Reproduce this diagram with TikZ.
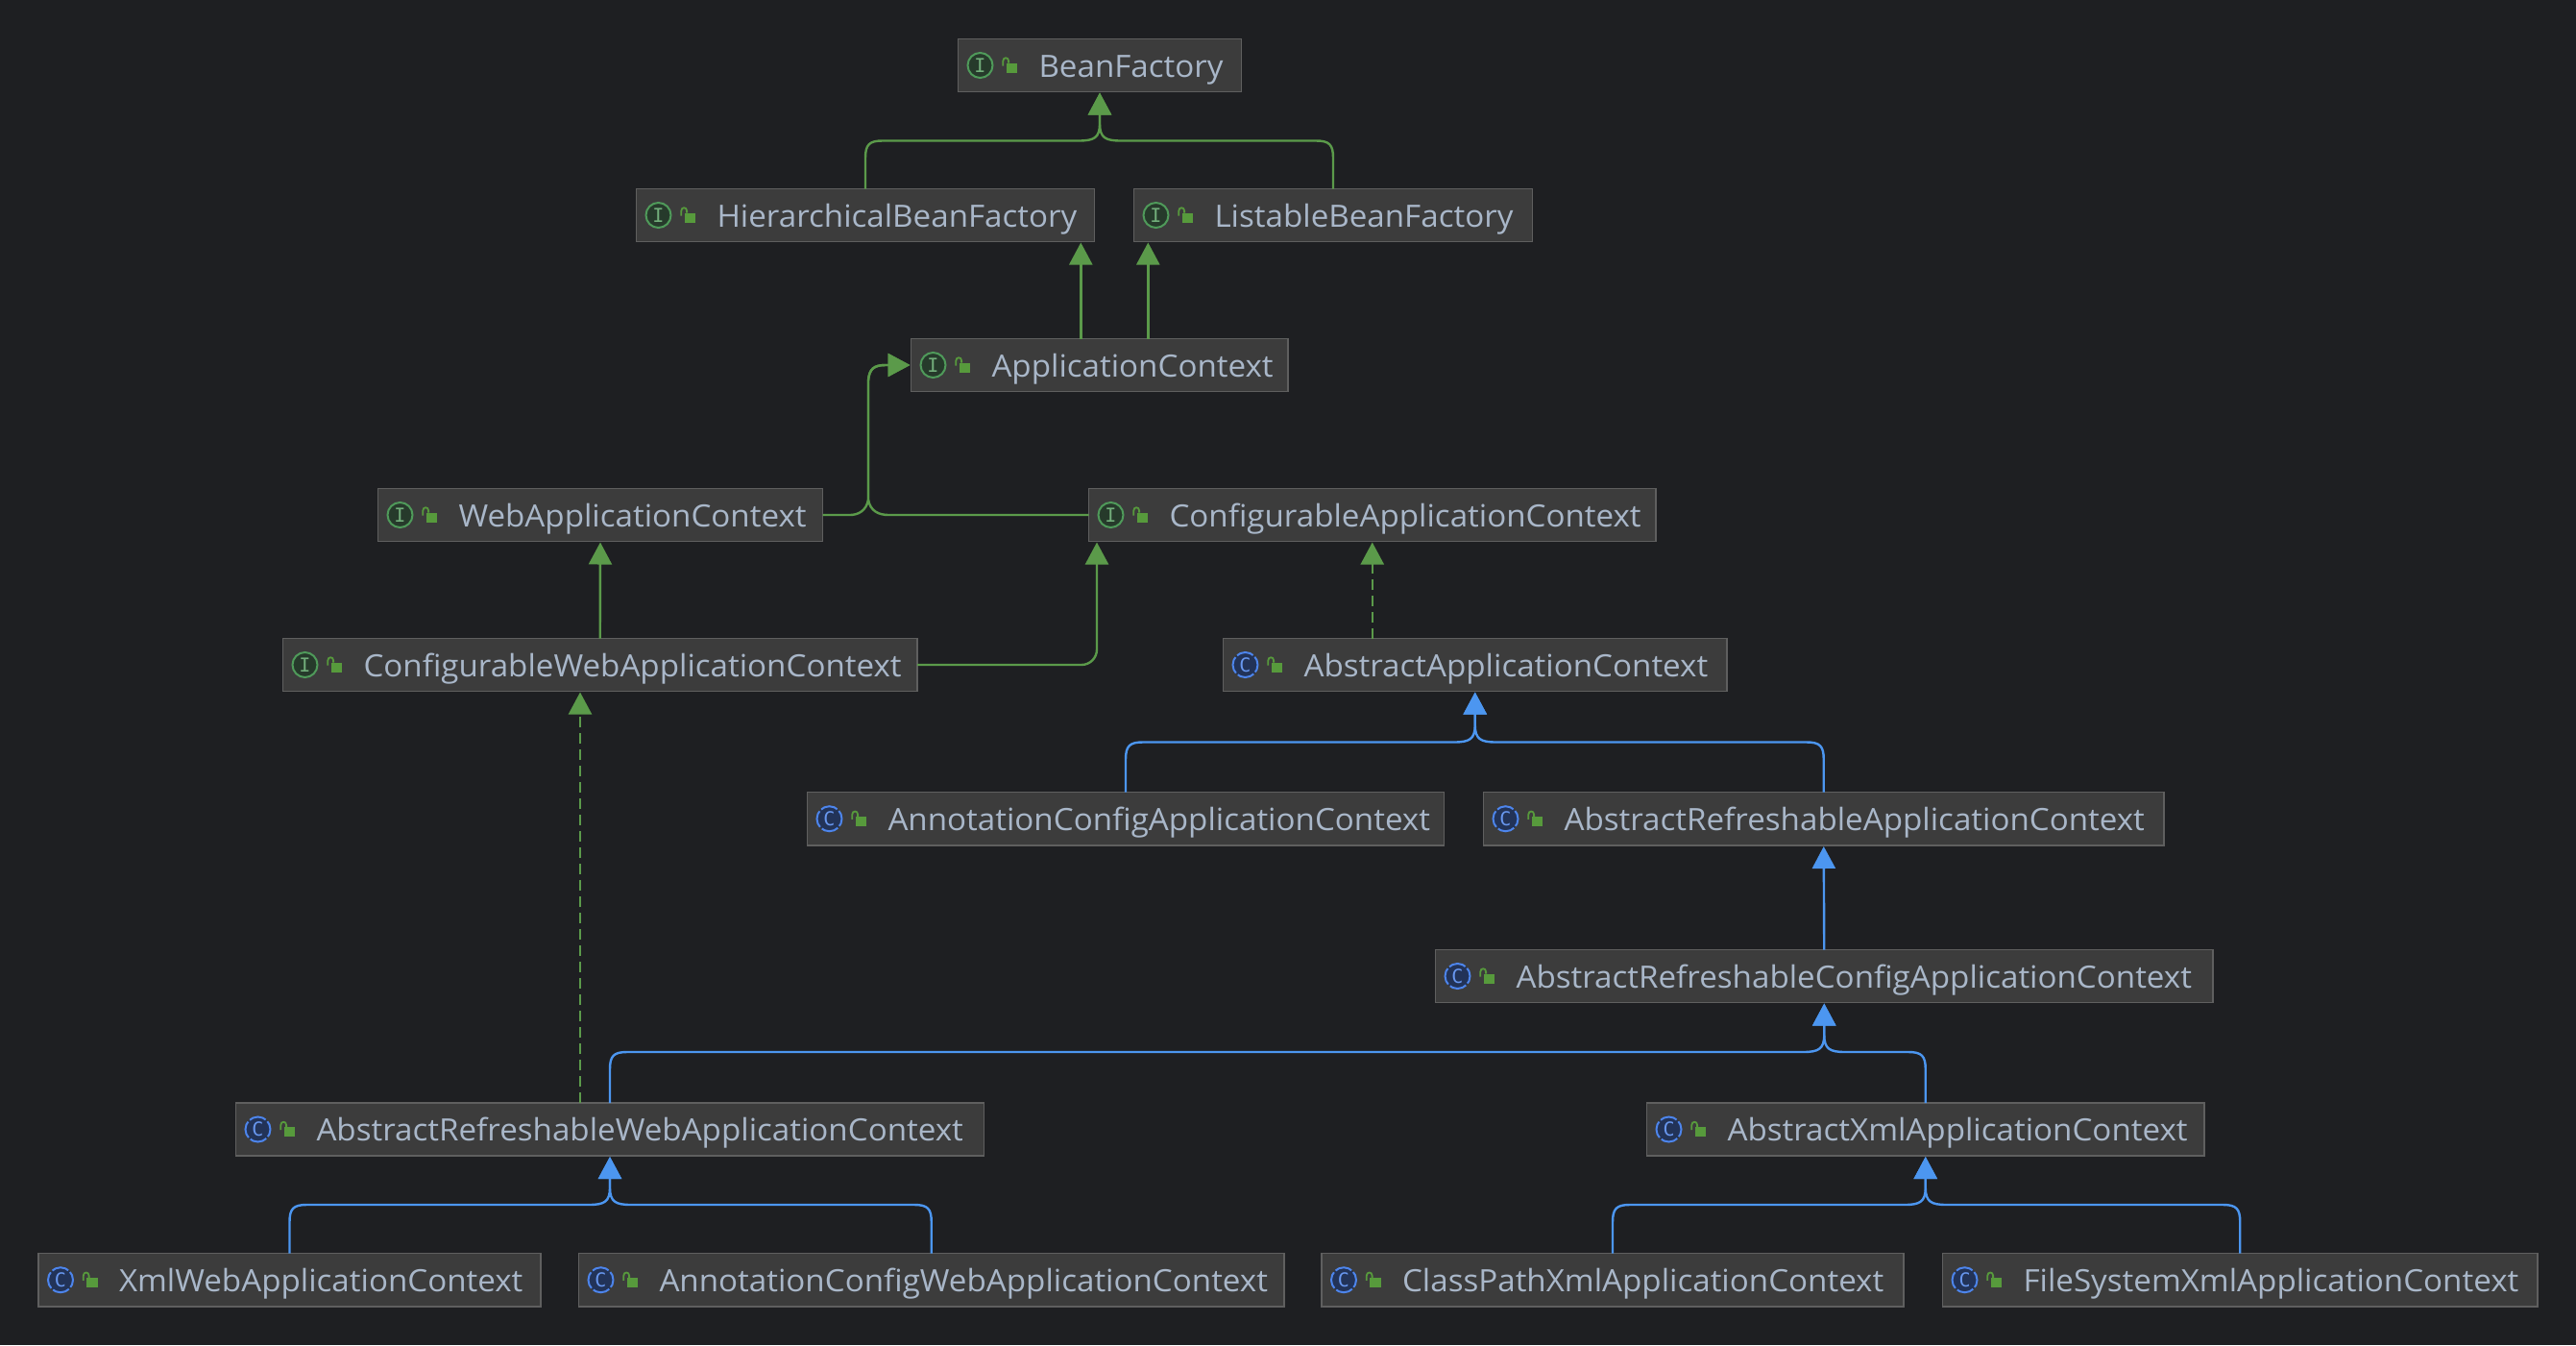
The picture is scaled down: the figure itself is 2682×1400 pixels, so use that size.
\documentclass[tikz,border=0pt]{standalone}
\usepackage{fontspec}
\setmainfont[FakeStretch=1.036]{Open Sans}
\newfontfamily\iconfont{DejaVu Sans Mono}
\usetikzlibrary{arrows.meta,calc}
\definecolor{bgc}{HTML}{1E1F22}
\definecolor{boxc}{HTML}{3C3C3C}
\definecolor{edgec}{HTML}{5F5F5F}
\definecolor{txtc}{HTML}{A9B7C9}
\definecolor{gln}{HTML}{5B9A4A}
\definecolor{bln}{HTML}{4C96F0}
\definecolor{ifill}{HTML}{263A2B}
\definecolor{istroke}{HTML}{4F9A5A}
\definecolor{cfill}{HTML}{223358}
\definecolor{cstroke}{HTML}{4D85EC}
\definecolor{lockc}{HTML}{579A3C}
\tikzset{
  x=1pt,y=-1pt,
  clsbox/.style={draw=edgec,fill=boxc,line width=1.6pt,inner sep=0pt,outer sep=0pt,rectangle},
  gl/.style={draw=gln,line width=2.4pt,-{Triangle[length=23pt,width=24pt,fill=gln]},shorten >=1pt},
  bl/.style={draw=bln,line width=2.4pt,-{Triangle[length=23pt,width=24pt,fill=bln]},shorten >=1pt},
  dsh/.style={dash pattern=on 11pt off 6pt},
  lbl/.style={text=txtc,font=\fontsize{32}{36}\selectfont,anchor=base west,inner sep=0pt,outer sep=0pt},
  glyphI/.style={text=istroke!80!white,font=\iconfont\fontsize{20}{20}\selectfont,inner sep=0pt},
  glyphC/.style={text=cstroke!85!white,font=\iconfont\fontsize{20}{20}\selectfont,inner sep=0pt},
}
% \cls{name}{x1}{y1}{x2}{y2}{label}{I or C}
\newcommand{\cls}[7]{%
  \node[clsbox,minimum width=#4-#2,minimum height=#5-#3] (#1) at ({(#2+#4)/2},{(#3+#5)/2}) {};
  \ifx I#7
    \node[circle,draw=istroke,fill=ifill,line width=2pt,minimum size=26pt,inner sep=0pt] (#1-ic) at ({#2+23},{(#3+#5)/2}) {};
    \node[glyphI] (#1-g) at (#1-ic.center) {I};
  \else
    \node[circle,draw=cstroke,fill=cfill,line width=2pt,minimum size=26pt,inner sep=0pt,dash pattern=on 18pt off 2.5pt,dash phase=9pt] (#1-ic) at ({#2+23},{(#3+#5)/2}) {};
    \node[glyphC] (#1-g) at (#1-ic.center) {C};
  \fi
  \fill[lockc] ({#2+50},{(#3+#5)/2-2.3}) rectangle ({#2+61.7},{(#3+#5)/2+7.7});
  \draw[lockc,line width=1.8pt] ({#2+46.8},{(#3+#5)/2+0.5}) -- ({#2+46.8},{(#3+#5)/2-4.5}) .. controls ({#2+46.8},{(#3+#5)/2-8.8}) and ({#2+52.6},{(#3+#5)/2-8.8}) .. ({#2+52.6},{(#3+#5)/2-4.5}) -- ({#2+52.6},{(#3+#5)/2-2.3});
  \node[lbl] (#1-t) at ({#2+84},{(#3+#5)/2+12}) {#6};
}
% \mergeup: from child top, up to line y, sideways and into the parent's lower side
\newcommand{\mergeup}[5]{% style, child, parent, yline, sign(direction from child to parent)
  \draw[#1] (#2.north) -- ($(#2.north |- 0,#4)+(0,18)$)
    .. controls ($(#2.north |- 0,#4)+(0,4)$) and ($(#2.north |- 0,#4)+(#5*4,0)$) .. ($(#2.north |- 0,#4)+(#5*18,0)$)
    -- ($(#3.south |- 0,#4)+(-#5*22,0)$)
    .. controls ($(#3.south |- 0,#4)+(-#5*6,0)$) and ($(#3.south |- 0,#4)+(0,-3)$) .. ($(#3.south |- 0,#4)+(0,-18)$)
    -- (#3.south);
}
\begin{document}
\begin{tikzpicture}
\useasboundingbox (0,0) rectangle (2682,1400);
\fill[bgc] (0,0) rectangle (2682,1400);

\cls{bf}{997.5}{40.5}{1292.5}{95.5}{BeanFactory}{I}
\cls{hbf}{662.5}{196.5}{1139.5}{251.5}{HierarchicalBeanFactory}{I}
\cls{lbf}{1180.5}{196.5}{1595.5}{251.5}{ListableBeanFactory}{I}
\cls{app}{948.5}{352.5}{1341}{407.5}{ApplicationContext}{I}
\cls{web}{393.5}{508.5}{856.5}{563.5}{WebApplicationContext}{I}
\cls{capp}{1133.5}{508.5}{1724}{563.5}{ConfigurableApplicationContext}{I}
\cls{cweb}{294.5}{664.5}{955}{719.5}{ConfigurableWebApplicationContext}{I}
\cls{aac}{1273.5}{664.5}{1798}{719.5}{AbstractApplicationContext}{C}
\cls{ann}{840.5}{824.5}{1503.5}{880}{AnnotationConfigApplicationContext}{C}
\cls{arac}{1544.5}{824.5}{2253}{880}{AbstractRefreshableApplicationContext}{C}
\cls{arcac}{1494.5}{988.5}{2304}{1043.5}{AbstractRefreshableConfigApplicationContext}{C}
\cls{arwac}{245.5}{1148}{1024.5}{1203}{AbstractRefreshableWebApplicationContext}{C}
\cls{axac}{1714.5}{1148}{2295}{1203}{AbstractXmlApplicationContext}{C}
\cls{xweb}{40}{1304.5}{563}{1360}{XmlWebApplicationContext}{C}
\cls{aweb}{602.5}{1304.5}{1337}{1360}{AnnotationConfigWebApplicationContext}{C}
\cls{cpx}{1376}{1304.5}{1982}{1360}{ClassPathXmlApplicationContext}{C}
\cls{fsx}{2022.5}{1304.5}{2642}{1360}{FileSystemXmlApplicationContext}{C}

% BeanFactory
\mergeup{gl}{hbf}{bf}{146.5}{1}
\mergeup{gl}{lbf}{bf}{146.5}{-1}
% ApplicationContext up
\coordinate (h1) at (1125.3,251.5);
\coordinate (h2) at (1195.3,251.5);
\draw[gl] (h1 |- app.north) -- (h1);
\draw[gl] (h2 |- app.north) -- (h2);
% web / configurable into ApplicationContext
\coordinate (j) at (904,520);
\draw[gl] (web.east) -- (885,536) .. controls (893,536) and (902,532) .. (j) -- (904,396) .. controls (905,384) and (910,380) .. (922,380) -- (app.west);
\draw[gl] (capp.west) -- (925,536) .. controls (915,536) and (906,532) .. (j) -- (904,396) .. controls (905,384) and (910,380) .. (922,380) -- (app.west);
% ConfigurableWeb
\draw[gl] (cweb.north) -- (web.south);
\draw[gl,rounded corners=16pt] (cweb.east) -| (capp.south -| 1142,0);
% AbstractApplicationContext dashed
\draw[gl,dsh] (capp.south |- aac.north) -- (capp.south);
% Children of AbstractApplicationContext
\mergeup{bl}{ann}{aac}{772.5}{1}
\mergeup{bl}{arac}{aac}{772.5}{-1}
\draw[bl] (arcac.north) -- (arac.south);
\mergeup{bl}{arwac}{arcac}{1095}{1}
\mergeup{bl}{axac}{arcac}{1095}{-1}
\coordinate (d1) at (604,719.5);
\draw[gl,dsh] (d1 |- arwac.north) -- (d1);
\mergeup{bl}{xweb}{arwac}{1254}{1}
\mergeup{bl}{aweb}{arwac}{1254}{-1}
\mergeup{bl}{cpx}{axac}{1254}{1}
\mergeup{bl}{fsx}{axac}{1254}{-1}
\end{tikzpicture}
\end{document}
